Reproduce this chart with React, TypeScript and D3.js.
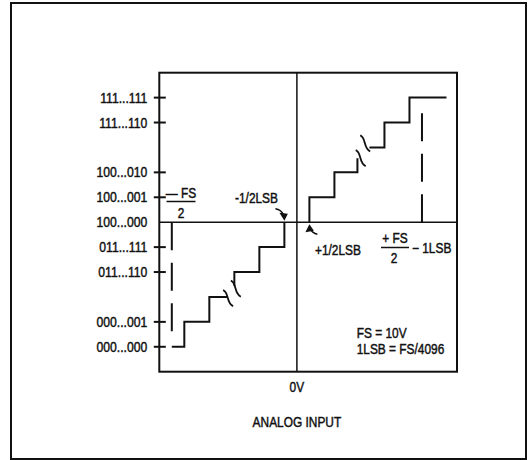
import * as d3 from 'd3';
import type { ReactNode } from 'react';

// output codes on the vertical axis (level index -> label)
const codeLevels = [0, 1, 3, 4, 6, 7, 9, 10];
const codeLabels = ['000...000', '000...001', '011...110', '011...111', '100...001', '100...010', '111...110', '111...111'];
const midLevel = 5;
const midLabel = '100...000';

// transfer function in LSB (x) and code level (y), split where the axis is broken
type Pt = [number, number];
const lowerRunA: Pt[] = [[-5, 0], [-4.5, 0], [-4.5, 1], [-3.5, 1], [-3.5, 2], [-2.78, 2]];
const lowerRunB: Pt[] = [[-2.5, 2.45], [-2.5, 3], [-1.5, 3], [-1.5, 4], [-0.5, 4], [-0.5, 5]];
const upperRunA: Pt[] = [[0.5, 5], [0.5, 6], [1.5, 6], [1.5, 7], [2.42, 7], [2.42, 7.57]];
const upperRunB: Pt[] = [[2.9, 8], [3.5, 8], [3.5, 9], [4.5, 9], [4.5, 10], [5.98, 10]];
const breakMarks: Pt[] = [[-2.75, 1.95], [-2.44, 2.33], [2.55, 7.57], [2.73, 8.16]];

const negFullScale = -5;
const posFullScale = 5;
const negDashEnd = 0.6;
const posDashEnd = 9.4;

const W = 532;
const H = 460;
const FONT = '"Liberation Sans", Arial, sans-serif';
const INK = '#111';

// condensed text: Liberation Sans squeezed horizontally
function T({ x, y, anchor = 'start', sx = 0.85, children }: { x: number; y: number; anchor?: string; sx?: number; children: ReactNode }) {
  return (
    <text
      transform={`translate(${x},${y}) scale(${sx},1)`}
      textAnchor={anchor}
      fontSize={14}
      fill={INK}
      stroke={INK}
      strokeWidth={0.45}
    >
      {children}
    </text>
  );
}

export default function App() {
  const x = d3.scaleLinear().domain([-5.5, 6.4]).range([159.3, 457]);
  const y = d3.scaleLinear().domain([-1, 11]).range([371.7, 72.7]);
  const line = d3.line<Pt>().x((d) => x(d[0])).y((d) => y(d[1]));

  const [x0, x1] = x.range();
  const [yb, yt] = y.range();
  const cx = x(0);
  const cy = y(midLevel);

  const runs = [lowerRunA, lowerRunB, upperRunA, upperRunB];

  const downTip: Pt = [x(-0.5), y(midLevel) - 1.5];
  const upTip: Pt = [x(0.5), y(midLevel) + 2];

  return (
    <svg width={W} height={H} style={{ position: 'absolute', left: 0, top: 0, background: '#fff' }} fontFamily={FONT}>
      {/* outer frame */}
      <rect x={11} y={3} width={515} height={456} fill="none" stroke={INK} strokeWidth={2} />

      {/* plot box */}
      <rect x={x0} y={yt} width={x1 - x0} height={yb - yt} fill="none" stroke={INK} strokeWidth={2} />

      {/* axes through the origin */}
      <line x1={cx} x2={cx} y1={yt} y2={yb} stroke={INK} strokeWidth={1.5} />
      <line x1={x0} x2={x1} y1={cy} y2={cy} stroke={INK} strokeWidth={1.5} />

      {/* code ticks */}
      {codeLevels.map((lv, i) => (
        <g key={lv}>
          <line x1={x0 - 5.5} x2={x0 + 6.5} y1={y(lv)} y2={y(lv)} stroke={INK} strokeWidth={2} />
          <T x={x0 - 12} y={y(lv) + 5} anchor="end" sx={0.87}>
            {codeLabels[i]}
          </T>
        </g>
      ))}
      <T x={x0 - 12} y={cy + 5} anchor="end" sx={0.87}>
        {midLabel}
      </T>

      {/* full scale dashed markers */}
      <line x1={x(negFullScale)} x2={x(negFullScale)} y1={cy} y2={y(negDashEnd)} stroke={INK} strokeWidth={2} strokeDasharray="28,12.5" />
      <line x1={x(posFullScale)} x2={x(posFullScale)} y1={cy} y2={y(posDashEnd)} stroke={INK} strokeWidth={2} strokeDasharray="28,12.5" />

      {/* staircase */}
      {runs.map((r, i) => (
        <path key={i} d={line(r) ?? ''} fill="none" stroke={INK} strokeWidth={2} />
      ))}
      {breakMarks.map((m, i) => {
        const bx = x(m[0]);
        const by = y(m[1]);
        return (
          <path
            key={i}
            d={`M${bx - 5},${by - 8} C${bx + 1},${by - 6} ${bx - 2},${by + 5} ${bx + 5},${by + 8}`}
            fill="none"
            stroke={INK}
            strokeWidth={1.8}
          />
        );
      })}

      {/* -1/2LSB pointer */}
      <path d={`M${downTip[0] - 9},${downTip[1] - 12} Q${downTip[0] - 3},${downTip[1] - 11} ${downTip[0] - 1},${downTip[1] - 6}`} fill="none" stroke={INK} strokeWidth={1.5} />
      <path d={`M${downTip[0]},${downTip[1]} L${downTip[0] - 5},${downTip[1] - 8} L${downTip[0] + 3.5},${downTip[1] - 7} Z`} fill={INK} />
      <T x={235} y={203}>-1/2LSB</T>

      {/* +1/2LSB pointer */}
      <path d={`M${upTip[0] + 8},${upTip[1] + 10} Q${upTip[0] + 3},${upTip[1] + 9} ${upTip[0] + 1},${upTip[1] + 5}`} fill="none" stroke={INK} strokeWidth={1.5} />
      <path d={`M${upTip[0]},${upTip[1]} L${upTip[0] - 4},${upTip[1] + 8} L${upTip[0] + 4.5},${upTip[1] + 6.5} Z`} fill={INK} />
      <T x={315} y={255}>+1/2LSB</T>

      {/* -FS/2 */}
      <T x={181} y={198} anchor="middle">— FS</T>
      <line x1={166.5} x2={195.5} y1={201.5} y2={201.5} stroke={INK} strokeWidth={1.5} />
      <T x={181} y={218} anchor="middle">2</T>

      {/* +FS/2 - 1LSB */}
      <T x={395} y={243} anchor="middle">+ FS</T>
      <line x1={381} x2={409} y1={247.5} y2={247.5} stroke={INK} strokeWidth={1.5} />
      <T x={394} y={263} anchor="middle">2</T>
      <T x={412} y={253}>− 1LSB</T>

      {/* notes */}
      <T x={356.7} y={338}>FS = 10V</T>
      <T x={356.7} y={354}>1LSB = FS/4096</T>

      <T x={cx} y={392} anchor="middle">0V</T>
      <T x={cx} y={426.7} anchor="middle">ANALOG INPUT</T>
    </svg>
  );
}
